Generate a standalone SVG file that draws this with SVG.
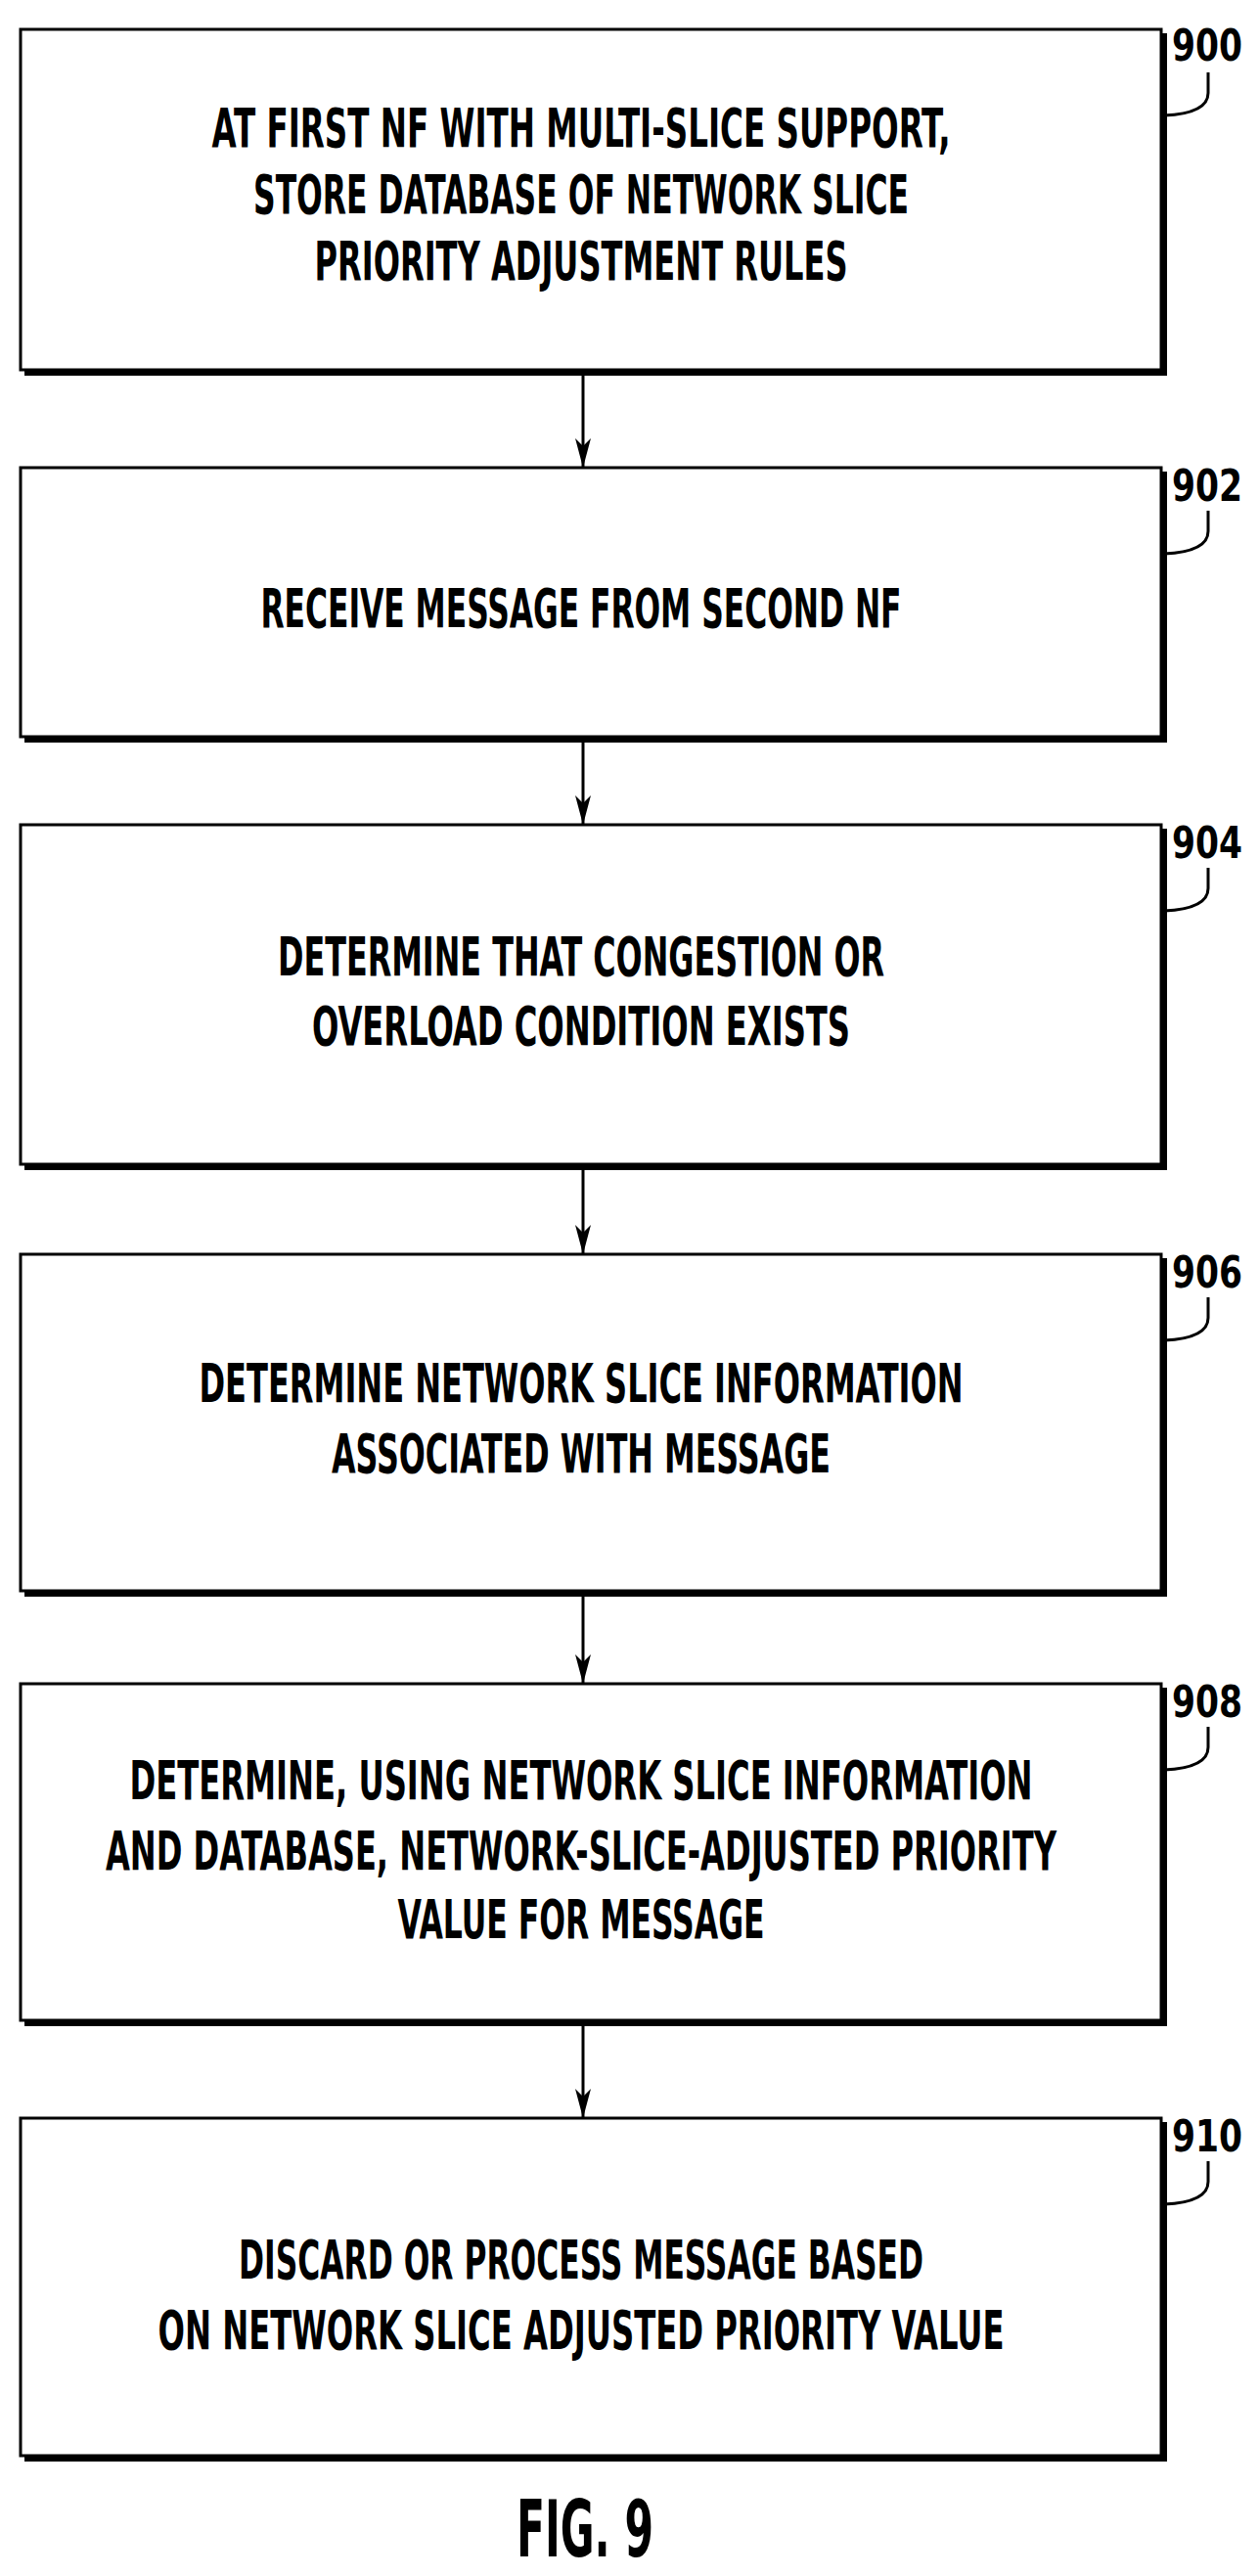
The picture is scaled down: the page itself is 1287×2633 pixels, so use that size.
<svg xmlns="http://www.w3.org/2000/svg" width="1287" height="2633" viewBox="0 0 1287 2633">
<style>
.box{fill:#fff;stroke:#000;stroke-width:3}
.sh{fill:none;stroke:#000;stroke-width:6}
.t{font-family:"DejaVu Sans","Liberation Sans",sans-serif;font-weight:bold;font-stretch:condensed;font-size:56px;text-anchor:middle}
.lab{font-family:"DejaVu Sans","Liberation Sans",sans-serif;font-weight:bold;font-stretch:condensed;font-size:44px}
.ld{fill:none;stroke:#000;stroke-width:3}
.c{stroke:#000;stroke-width:3;fill:none}
</style>
<defs><marker id="ah" markerWidth="30" markerHeight="16" refX="30" refY="8" orient="auto" markerUnits="userSpaceOnUse" viewBox="0 0 30 16"><path d="M0,0 L30,8 L0,16 L8,8 Z" fill="#000"/></marker></defs>
<g id="connectors">
<line class="c" x1="596" y1="383" x2="596" y2="478" marker-end="url(#ah)"/>
<line class="c" x1="596" y1="758" x2="596" y2="843" marker-end="url(#ah)"/>
<line class="c" x1="596" y1="1195" x2="596" y2="1282" marker-end="url(#ah)"/>
<line class="c" x1="596" y1="1631" x2="596" y2="1721" marker-end="url(#ah)"/>
<line class="c" x1="596" y1="2070" x2="596" y2="2165" marker-end="url(#ah)"/>
</g>
<g id="n900">
<rect class="box" x="21" y="30" width="1166" height="348"/><polyline class="sh" points="25,381 1190,381 1190,34"/>
<text class="t" x="594" y="150" textLength="755" lengthAdjust="spacingAndGlyphs">AT FIRST NF WITH MULTI-SLICE SUPPORT,</text>
<text class="t" x="594" y="218" textLength="670" lengthAdjust="spacingAndGlyphs">STORE DATABASE OF NETWORK SLICE</text>
<text class="t" x="594" y="286" textLength="545" lengthAdjust="spacingAndGlyphs">PRIORITY ADJUSTMENT RULES</text>
<text class="lab" x="1198" y="62" textLength="72" lengthAdjust="spacingAndGlyphs">900</text>
<path class="ld" d="M1235,74 L1235,95 Q1235,116 1190,118"/>
</g>
<g id="n902">
<rect class="box" x="21" y="478" width="1166" height="275"/><polyline class="sh" points="25,756 1190,756 1190,482"/>
<text class="t" x="594" y="641" textLength="655" lengthAdjust="spacingAndGlyphs">RECEIVE MESSAGE FROM SECOND NF</text>
<text class="lab" x="1198" y="512" textLength="72" lengthAdjust="spacingAndGlyphs">902</text>
<path class="ld" d="M1235,522 L1235,543 Q1235,564 1190,566"/>
</g>
<g id="n904">
<rect class="box" x="21" y="843" width="1166" height="347"/><polyline class="sh" points="25,1193 1190,1193 1190,847"/>
<text class="t" x="594" y="997" textLength="620" lengthAdjust="spacingAndGlyphs">DETERMINE THAT CONGESTION OR</text>
<text class="t" x="594" y="1068" textLength="550" lengthAdjust="spacingAndGlyphs">OVERLOAD CONDITION EXISTS</text>
<text class="lab" x="1198" y="877" textLength="72" lengthAdjust="spacingAndGlyphs">904</text>
<path class="ld" d="M1235,887 L1235,908 Q1235,929 1190,931"/>
</g>
<g id="n906">
<rect class="box" x="21" y="1282" width="1166" height="344"/><polyline class="sh" points="25,1629 1190,1629 1190,1286"/>
<text class="t" x="594" y="1433" textLength="781" lengthAdjust="spacingAndGlyphs">DETERMINE NETWORK SLICE INFORMATION</text>
<text class="t" x="594" y="1505" textLength="510" lengthAdjust="spacingAndGlyphs">ASSOCIATED WITH MESSAGE</text>
<text class="lab" x="1198" y="1316" textLength="72" lengthAdjust="spacingAndGlyphs">906</text>
<path class="ld" d="M1235,1326 L1235,1347 Q1235,1368 1190,1370"/>
</g>
<g id="n908">
<rect class="box" x="21" y="1721" width="1166" height="344"/><polyline class="sh" points="25,2068 1190,2068 1190,1725"/>
<text class="t" x="594" y="1839" textLength="923" lengthAdjust="spacingAndGlyphs">DETERMINE, USING NETWORK SLICE INFORMATION</text>
<text class="t" x="594" y="1911" textLength="972" lengthAdjust="spacingAndGlyphs">AND DATABASE, NETWORK-SLICE-ADJUSTED PRIORITY</text>
<text class="t" x="594" y="1981" textLength="375" lengthAdjust="spacingAndGlyphs">VALUE FOR MESSAGE</text>
<text class="lab" x="1198" y="1755" textLength="72" lengthAdjust="spacingAndGlyphs">908</text>
<path class="ld" d="M1235,1765 L1235,1786 Q1235,1807 1190,1809"/>
</g>
<g id="n910">
<rect class="box" x="21" y="2165" width="1166" height="345"/><polyline class="sh" points="25,2513 1190,2513 1190,2169"/>
<text class="t" x="594" y="2329" textLength="700" lengthAdjust="spacingAndGlyphs">DISCARD OR PROCESS MESSAGE BASED</text>
<text class="t" x="594" y="2401" textLength="865" lengthAdjust="spacingAndGlyphs">ON NETWORK SLICE ADJUSTED PRIORITY VALUE</text>
<text class="lab" x="1198" y="2199" textLength="72" lengthAdjust="spacingAndGlyphs">910</text>
<path class="ld" d="M1235,2209 L1235,2230 Q1235,2251 1190,2253"/>
</g>
<text x="598" y="2613" text-anchor="middle" style="font-family:'DejaVu Sans','Liberation Sans',sans-serif;font-weight:bold;font-stretch:condensed;font-size:80px" textLength="140" lengthAdjust="spacingAndGlyphs">FIG. 9</text>
</svg>
